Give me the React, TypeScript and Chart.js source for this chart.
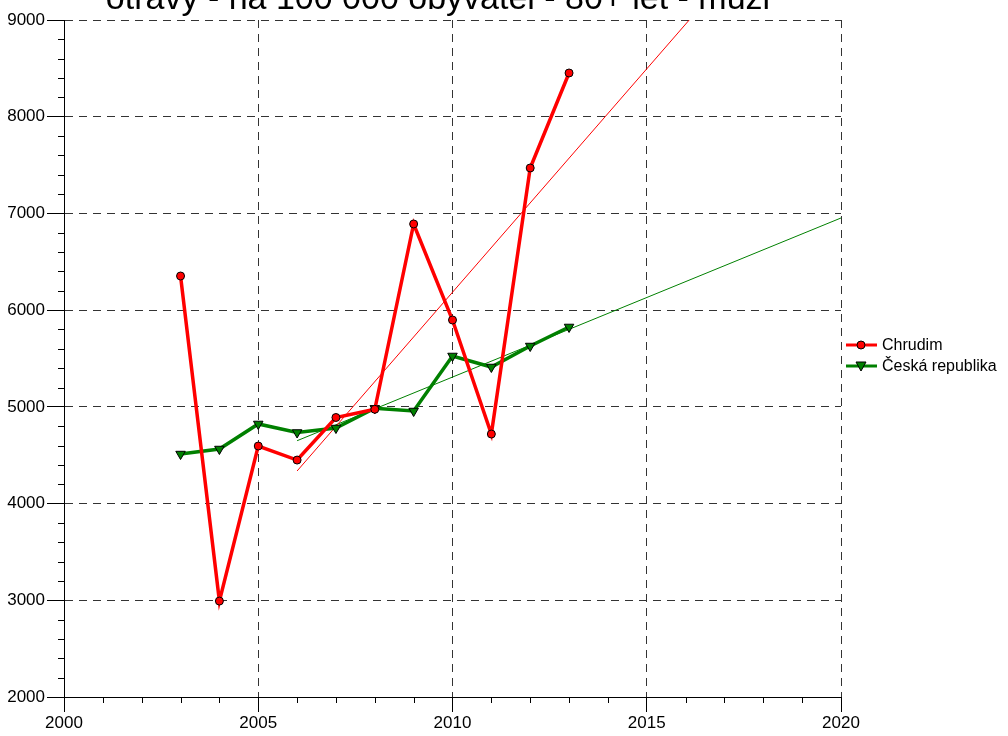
import React, { useEffect, useRef } from "react";
import { Chart, registerables } from "chart.js";

Chart.register(...registerables);

const TITLE = "otravy - na 100 000 obyvatel - 80+ let - muži";
const years = [2003, 2004, 2005, 2006, 2007, 2008, 2009, 2010, 2011, 2012, 2013];
const chrudim = [6353, 2992, 4595, 4450, 4890, 4975, 6891, 5898, 4719, 7470, 8452];
const ceskaRepublika = [4512, 4564, 4823, 4735, 4781, 4985, 4957, 5526, 5412, 5629, 5826];
const trendYears = [2006, 2020];
const chrudimTrend = [4337, 10805];
const crTrend = [4650, 6953];
const seriesNames = ["Chrudim", "Česká republika"];
const xTicks = [2000, 2005, 2010, 2015, 2020];

const FONT = "'Liberation Sans', Arial, sans-serif";

const toXY = (xs: number[], ys: number[]) => xs.map((x, i) => ({ x, y: ys[i] }));

const extrasPlugin = {
  id: "extras",
  afterDraw(chart: any) {
    const ctx = chart.ctx;
    const xs = chart.scales.x;
    const ys = chart.scales.y;
    const area = chart.chartArea;
    ctx.save();
    // minor ticks
    ctx.strokeStyle = "#000";
    ctx.lineWidth = 1;
    ctx.beginPath();
    for (let v = 2000; v <= 9000; v += 200) {
      if (v % 1000 === 0) continue;
      const py = Math.round(ys.getPixelForValue(v)) + 0.5;
      ctx.moveTo(area.left - 6, py);
      ctx.lineTo(area.left, py);
    }
    for (let yv = 2000; yv <= 2020; yv += 1) {
      if (yv % 5 === 0) continue;
      const px = Math.round(xs.getPixelForValue(yv)) + 0.5;
      ctx.moveTo(px, area.bottom);
      ctx.lineTo(px, area.bottom + 6);
    }
    ctx.stroke();

    // title
    ctx.fillStyle = "#000";
    ctx.font = `34px ${FONT}`;
    ctx.textAlign = "center";
    ctx.textBaseline = "alphabetic";
    ctx.fillText(TITLE, 438, 9);

    // legend
    const items = [
      { name: seriesNames[0], color: "#ff0000", style: "circle", y: 345 },
      { name: seriesNames[1], color: "#008000", style: "triangle", y: 366 },
    ];
    ctx.font = `16px ${FONT}`;
    ctx.textAlign = "left";
    ctx.textBaseline = "middle";
    for (const it of items) {
      ctx.strokeStyle = it.color;
      ctx.lineWidth = 3;
      ctx.beginPath();
      ctx.moveTo(846, it.y);
      ctx.lineTo(877, it.y);
      ctx.stroke();
      ctx.fillStyle = it.color;
      ctx.strokeStyle = "#000";
      ctx.lineWidth = 1;
      ctx.beginPath();
      if (it.style === "circle") {
        ctx.arc(861, it.y, 4, 0, Math.PI * 2);
      } else {
        ctx.moveTo(856, it.y - 4);
        ctx.lineTo(866, it.y - 4);
        ctx.lineTo(861, it.y + 5);
        ctx.closePath();
      }
      ctx.fill();
      ctx.stroke();
      ctx.fillStyle = "#000";
      ctx.fillText(it.name, 882, it.y + 1);
    }
    ctx.restore();
  },
};

export default function App() {
  const ref = useRef<HTMLCanvasElement | null>(null);
  useEffect(() => {
    if (!ref.current) return;
    const chart = new Chart(ref.current, {
      type: "line",
      data: {
        datasets: [
          {
            label: seriesNames[0] + " trend",
            data: toXY(trendYears, chrudimTrend),
            borderColor: "#ff0000",
            borderWidth: 1,
            pointRadius: 0,
            fill: false,
            clip: 0,
            order: 2,
          } as any,
          {
            label: seriesNames[1] + " trend",
            data: toXY(trendYears, crTrend),
            borderColor: "#008000",
            borderWidth: 1,
            pointRadius: 0,
            fill: false,
            clip: 0,
            order: 3,
          } as any,
          {
            label: seriesNames[1],
            data: toXY(years, ceskaRepublika),
            borderColor: "#008000",
            backgroundColor: "#008000",
            borderWidth: 3.5,
            pointStyle: "triangle",
            rotation: 180,
            pointRadius: 5.5,
            pointBorderColor: "#000",
            pointBackgroundColor: "#008000",
            pointBorderWidth: 1,
            fill: false,
            order: 1,
          } as any,
          {
            label: seriesNames[0],
            data: toXY(years, chrudim),
            borderColor: "#ff0000",
            backgroundColor: "#ff0000",
            borderWidth: 3.5,
            pointStyle: "circle",
            pointRadius: 4,
            pointBorderColor: "#000",
            pointBackgroundColor: "#ff0000",
            pointBorderWidth: 1,
            fill: false,
            order: 0,
          } as any,
        ],
      },
      options: {
        animation: false,
        responsive: false,
        layout: { padding: { left: 0, right: 167, top: 20, bottom: 0 } },
        plugins: {
          legend: { display: false },
          title: { display: false },
          tooltip: { enabled: false },
        },
        scales: {
          x: {
            type: "linear",
            min: 2000,
            max: 2020,
            afterFit: (s: any) => {
              s.height = 39;
            },
            afterBuildTicks: (s: any) => {
              s.ticks = xTicks.map((v) => ({ value: v }));
            },
            ticks: {
              color: "#000",
              font: { family: FONT, size: 17 },
              padding: 1,
              maxRotation: 0,
              callback: (v: any) => String(v),
            },
            grid: {
              color: "#333",
              lineWidth: 1,
              tickLength: 15,
              tickColor: "#000",
              drawTicks: true,
            },
            border: { display: true, color: "#000", width: 1, dash: [8, 6] },
          },
          y: {
            type: "linear",
            min: 2000,
            max: 9000,
            afterFit: (s: any) => {
              s.width = 64;
            },
            ticks: {
              stepSize: 1000,
              color: "#000",
              font: { family: FONT, size: 17 },
              padding: 2,
              callback: (v: any) => String(v),
            },
            grid: {
              color: "#333",
              lineWidth: 1,
              tickLength: 17,
              tickColor: "#000",
              drawTicks: true,
            },
            border: { display: true, color: "#000", width: 1, dash: [8, 6] },
          },
        },
      } as any,
      plugins: [extrasPlugin],
    });
    return () => chart.destroy();
  }, []);
  return (
    <div style={{ position: "absolute", left: 0, top: 0, width: 1008, height: 736, background: "#fff" }}>
      <canvas ref={ref} width={1008} height={736} style={{ width: 1008, height: 736 }} />
    </div>
  );
}
